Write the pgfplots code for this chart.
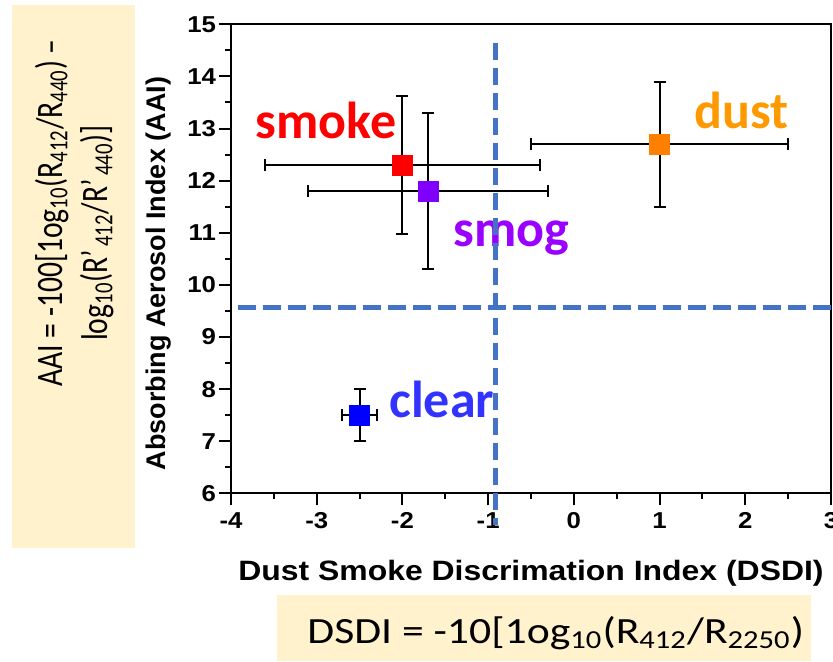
\documentclass[border=0pt]{standalone}
\usepackage{fontspec}
\setmainfont{Liberation Sans}
\newfontfamily\calibri{Carlito}
\usepackage{graphicx}
\usepackage{pgfplots}
\pgfplotsset{compat=1.18}
\definecolor{dashblue}{HTML}{4472C4}
\definecolor{boxyellow}{HTML}{FFF2CC}
\definecolor{smokecol}{HTML}{FF0000}
\definecolor{smogmark}{HTML}{8000FF}
\definecolor{smogtext}{HTML}{9900FF}
\definecolor{dustmark}{HTML}{FF8000}
\definecolor{dusttext}{HTML}{FF9900}
\definecolor{clearmark}{HTML}{0000FF}
\definecolor{cleartext}{HTML}{3333FF}
\begin{document}
\begin{tikzpicture}
\fill[boxyellow] (6pt,56.5pt) rectangle (67.5pt,328pt);
\fill[boxyellow] (138.5pt,0pt) rectangle (405.5pt,33pt);
\begin{axis}[
  at={(115.5pt,83.85pt)}, anchor=south west,
  width=300pt, height=234.5pt, scale only axis,
  xmin=-4, xmax=3, ymin=6, ymax=15,
  xtick={-4,-3,...,3}, ytick={6,7,...,15},
  minor tick num=1,
  tick align=outside, xtick pos=lower, ytick pos=left,
  major tick length=6pt, minor tick length=3pt,
  axis line style={line width=1pt},
  major tick style={line width=1pt, black},
  minor tick style={line width=1pt, black},
  tick label style={font=\fontsize{11.5}{13}\selectfont\bfseries},
  xticklabel={\scalebox{1.12}[1]{\pgfmathprintnumber{\tick}}},
  yticklabel={\scalebox{1.12}[1]{\pgfmathprintnumber{\tick}}},
  yticklabel style={xshift=2pt},
  /pgf/number format/assume math mode=true,
  clip=false,
  xlabel={Dust Smoke Discrimation Index (DSDI)},
  xlabel style={at={(rel axis cs:0.5,0)}, anchor=base, yshift=-43.5pt,
    font=\fontsize{14}{16}\selectfont\bfseries, xscale=1.14},
]
\addplot[only marks, mark=square*, mark size=5pt, color=smokecol,
  error bars/.cd, x dir=both, x explicit, y dir=both, y explicit,
  error bar style={black, line width=1pt},
  error mark options={rotate=90, black, line width=1pt, mark size=3pt}]
  coordinates {(-2.0,12.3) +- (1.6,1.33)};
\addplot[only marks, mark=square*, mark size=5pt, color=smogmark,
  error bars/.cd, x dir=both, x explicit, y dir=both, y explicit,
  error bar style={black, line width=1pt},
  error mark options={rotate=90, black, line width=1pt, mark size=3pt}]
  coordinates {(-1.7,11.8) +- (1.4,1.5)};
\addplot[only marks, mark=square*, mark size=5pt, color=dustmark,
  error bars/.cd, x dir=both, x explicit, y dir=both, y explicit,
  error bar style={black, line width=1pt},
  error mark options={rotate=90, black, line width=1pt, mark size=3pt}]
  coordinates {(1.0,12.7) +- (1.5,1.2)};
\addplot[only marks, mark=square*, mark size=5pt, color=clearmark,
  error bars/.cd, x dir=both, x explicit, y dir=both, y explicit,
  error bar style={black, line width=1pt},
  error mark options={rotate=90, black, line width=1pt, mark size=3pt}]
  coordinates {(-2.5,7.5) +- (0.2,0.5)};
\node[anchor=base, text=smokecol, font=\calibri\bfseries\fontsize{26}{28}\selectfont] at (axis cs:-2.89,12.81) {smoke};
\node[anchor=base, text=smogtext, font=\calibri\bfseries\fontsize{26}{28}\selectfont] at (axis cs:-0.725,10.73) {smog};
\node[anchor=base, text=dusttext, font=\calibri\bfseries\fontsize{26}{28}\selectfont] at (axis cs:1.96,13.0) {dust};
\node[anchor=base, text=cleartext, font=\calibri\bfseries\fontsize{26}{28}\selectfont] at (axis cs:-1.54,7.46) {clear};
\addplot[dashblue, line width=2.5pt, dash pattern=on 8.5pt off 4pt] coordinates {(-0.91,14.65) (-0.91,5.4)};
\addplot[dashblue, line width=2.5pt, dash pattern=on 9pt off 3.5pt] coordinates {(-3.92,9.57) (3.05,9.57)};
\end{axis}
\node[rotate=90, anchor=base, font=\fontsize{13.5}{15}\selectfont\bfseries] at (82.5pt,193.75pt) {Absorbing Aerosol Index (AAI)};
\node[rotate=90, anchor=base, inner sep=0pt, font=\calibri\fontsize{14.8}{16}\selectfont] at (31pt,224pt) {\scalebox{1}[1.26]{AAI = -100[1og\textsubscript{10}(R\textsubscript{412}/R\textsubscript{440}) –}};
\node[rotate=90, anchor=base, inner sep=0pt, font=\calibri\fontsize{14.8}{16}\selectfont] at (53.5pt,214pt) {\scalebox{1}[1.26]{log\textsubscript{10}(R’\textsubscript{\,412}/R’\textsubscript{\,440})]}};
\node[anchor=base west, inner sep=0pt, font=\calibri\fontsize{18.5}{20}\selectfont] at (153.5pt,8.85pt) {\scalebox{1.18}[1]{DSDI = -10[1og\textsubscript{10}(R\textsubscript{412}/R\textsubscript{2250})}};
\pgfresetboundingbox
\path (0pt,0pt) rectangle (416.5pt,330.5pt);
\end{tikzpicture}
\end{document}
